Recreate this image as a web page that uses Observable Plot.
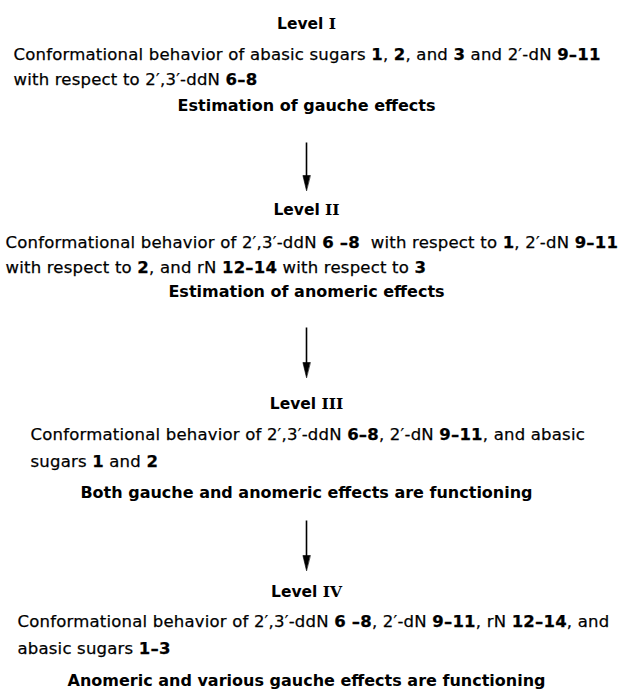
<!DOCTYPE html>
<html>
<head>
<meta charset="utf-8">
<script src="https://cdn.jsdelivr.net/npm/d3@7"></script>
<script src="https://cdn.jsdelivr.net/npm/@observablehq/plot@0.6"></script>
<style>
  html, body { margin: 0; padding: 0; background: #fff; }
  #chart svg { display: block; }
</style>
</head>
<body>
<div id="chart"></div>
<script>
// ---- data ----
const headers = ["Level I", "Level II", "Level III", "Level IV"];
const descLine1 = [
  "Conformational behavior of abasic sugars 1, 2, and 3 and 2′-dN 9–11",
  "Conformational behavior of 2′,3′-ddN 6 –8  with respect to 1, 2′-dN 9–11",
  "Conformational behavior of 2′,3′-ddN 6–8, 2′-dN 9–11, and abasic",
  "Conformational behavior of 2′,3′-ddN 6 –8, 2′-dN 9–11, rN 12–14, and"
];
const descLine2 = [
  "with respect to 2′,3′-ddN 6–8",
  "with respect to 2, and rN 12–14 with respect to 3",
  "sugars 1 and 2",
  "abasic sugars 1–3"
];
const effects = [
  "Estimation of gauche effects",
  "Estimation of anomeric effects",
  "Both gauche and anomeric effects are functioning",
  "Anomeric and various gauche effects are functioning"
];

// ---- layout (page geometry, not data) ----
const W = 623, H = 689, CX = 306;
const headY = [28, 214, 408, 596];
const line1Y = [59, 247, 439, 626];
const line2Y = [84, 272, 466, 653];
const effY = [110, 296, 497, 685];
const lineX = [13, 5, 30, 17];
const arrowTop = [142, 327, 520];
const arrowTip = [190, 377, 570];

const heads = headers.map((t, i) => ({t, x: CX, y: headY[i]}));
const descs = [
  ...descLine1.map((t, i) => ({t, x: lineX[i], y: line1Y[i]})),
  ...descLine2.map((t, i) => ({t, x: lineX[i], y: line2Y[i]}))
];
const effs = effects.map((t, i) => ({t, x: CX, y: effY[i]}));
const arrows = arrowTop.map((y1, i) => ({x: CX, y1, y2: arrowTip[i]}));

// filled, narrow arrowhead: tip at the origin, base above it
const headShape = {
  draw(ctx) {
    ctx.moveTo(0, 0);
    ctx.lineTo(-3.6, -15);
    ctx.lineTo(3.6, -15);
    ctx.closePath();
  }
};

const font = "'DejaVu Sans', 'Liberation Sans', Arial, sans-serif";

const chart = Plot.plot({
  width: W,
  height: H,
  margin: 0,
  style: {fontFamily: font, background: "#fff"},
  x: {domain: [0, W], range: [0, W], axis: null},
  y: {domain: [0, H], range: [0, H], axis: null},
  marks: [
    Plot.link(arrows, {x1: "x", x2: "x", y1: "y1", y2: d => d.y2 - 8, stroke: "#000", strokeWidth: 1.6}),
    Plot.vector(arrows, {x: "x", y: "y2", length: 15, anchor: "start", rotate: 0, shape: headShape, fill: "#000", stroke: "#000", strokeWidth: 0.6}),
    Plot.text(heads, {x: "x", y: "y", text: "t", fontSize: 15.5, fontWeight: "bold", lineAnchor: "bottom", textAnchor: "middle", fill: "#000"}),
    Plot.text(descs, {x: "x", y: "y", text: "t", fontSize: 16.5, lineAnchor: "bottom", textAnchor: "start", fill: "#000", stroke: "#000", strokeWidth: 0.25}),
    Plot.text(effs, {x: "x", y: "y", text: "t", fontSize: 16, fontWeight: "bold", lineAnchor: "bottom", textAnchor: "middle", fill: "#000"})
  ]
});

// bold the compound numbers inside the description lines
const descSet = new Set([...descLine1, ...descLine2]);
const headSet = new Set(headers);
const numRe = /\d+(?:\s?–\s?\d+)?(?![′\d])/g;
d3.select(chart).selectAll("text").each(function () {
  const el = d3.select(this);
  const s = this.textContent;
  if (headSet.has(s)) {
    // roman numeral set in a serif face, as in the original
    const [word, numeral] = s.split(" ");
    el.text(null);
    el.append("tspan").text(word + " ");
    el.append("tspan").attr("font-family", "'DejaVu Serif', 'Liberation Serif', serif").text(numeral);
    return;
  }
  if (!descSet.has(s)) return;
  const parts = [];
  let last = 0, m;
  numRe.lastIndex = 0;
  while ((m = numRe.exec(s))) {
    if (m.index > last) parts.push({s: s.slice(last, m.index), b: false});
    parts.push({s: m[0], b: true});
    last = m.index + m[0].length;
  }
  if (last < s.length) parts.push({s: s.slice(last), b: false});
  el.text(null);
  el.attr("xml:space", "preserve").style("white-space", "pre").style("letter-spacing", "0.2px");
  for (const p of parts) {
    const ts = el.append("tspan").text(p.s);
    if (p.b) ts.attr("font-weight", "bold");
  }
});

document.getElementById("chart").appendChild(chart);
</script>
</body>
</html>
